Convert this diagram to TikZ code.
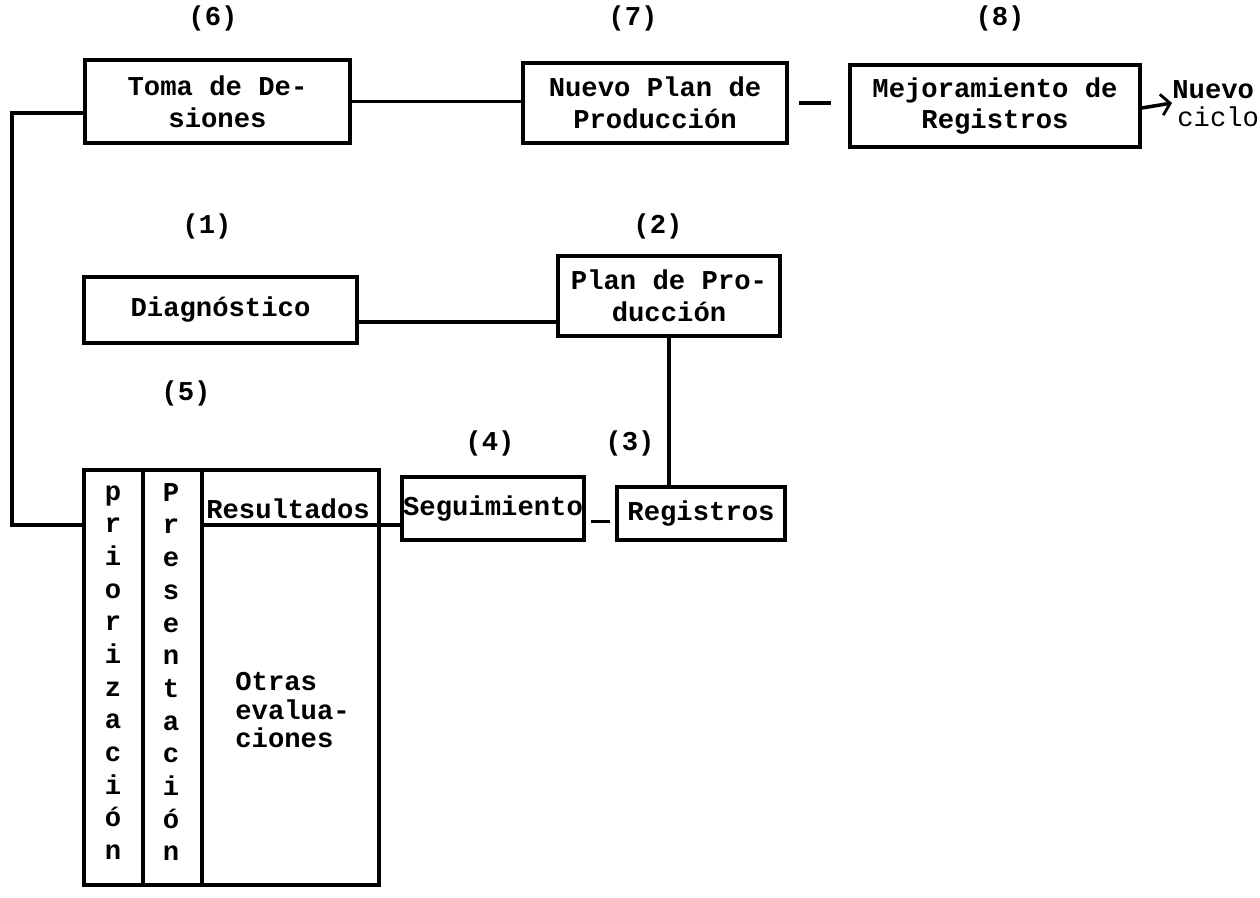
\documentclass[tikz,border=0pt]{standalone}
\usepackage{fontspec}
\setmonofont{Liberation Mono}
\usetikzlibrary{arrows.meta}
\newcommand\boxfont{\ttfamily\bfseries\fontsize{15.5}{18.2}\selectfont}
\tikzset{%
  >={Straight Barb[length=5pt,width=12pt,line width=1.6pt]}, % option for the open arrow
  box/.style={draw,line width=2pt,inner sep=0pt,align=center,font=\boxfont},%
  link/.style={line width=2pt},%
  num/.style={font=\boxfont,inner sep=0pt},%
  column/.style={font=\ttfamily\bfseries\fontsize{15.5}{18.6}\selectfont,
    align=center,inner sep=0pt,anchor=north}%
}

\begin{document}
\begin{tikzpicture}[x=0.02cm,y=-0.02cm]

%definitions
\useasboundingbox (0,0) rectangle (1260,897);
\node[box,minimum width=5.3cm,minimum height=1.66cm] (toma) at (217.5,101.5) {Toma de De-\\siones};
\node[box,minimum width=5.28cm,minimum height=1.6cm] (nuevo) at (655,103) {Nuevo Plan de\\Producción};
\node[box,minimum width=5.8cm,minimum height=1.64cm] (mejora) at (995,106) {Mejoramiento de\\Registros};
\node[box,minimum width=5.46cm,minimum height=1.32cm] (diag) at (220.5,310) {Diagnóstico};
\node[box,minimum width=4.44cm,minimum height=1.6cm] (plan) at (669,296) {Plan de Pro-\\ducción};
\node[box,minimum width=3.64cm,minimum height=1.26cm] (seg) at (493,508.5) {Seguimiento};
\node[box,minimum width=3.36cm,minimum height=1.06cm] (reg) at (701,513.5) {Registros};
\node[box,minimum width=5.9cm,minimum height=8.3cm] (eval) at (231.5,677.5) {};
\coordinate (resline) at (202,525);
\coordinate (bend) at (12,525);
\coordinate (ciclo) at (1172,103);

% inside of (5)
\draw[link] (143,0 |- eval.north) -- (143,0 |- eval.south);
\draw[link] (202,0 |- eval.north) -- (202,0 |- eval.south);
\node[column] (prio) at (113,485) {p\\r\\i\\o\\r\\i\\z\\a\\c\\i\\ó\\n};
\node[column] (pres) at (171,483) {P\\r\\e\\s\\e\\n\\t\\a\\c\\i\\ó\\n};
\node[num] (resul) at (288,509) {Resultados};
\node[num,anchor=north west,align=left,font=\ttfamily\bfseries\fontsize{15.5}{16.2}\selectfont]
  (otras) at (235,672) {Otras\\evalua-\\ciones};

% connectors
\draw[link] (toma.east) -- (toma.east -| nuevo.west);
\draw[link,shorten <=0.2cm,shorten >=0.34cm] (nuevo.east) -- (nuevo.east -| mejora.west);
\draw[link,->] ([yshift=-0.04cm]mejora.east) -- (ciclo);
\draw[link] ([yshift=-0.24cm]diag.east) -- ([yshift=-0.24cm]diag.east -| plan.west);
\draw[link] (plan.south) -- (plan.south |- reg.north);
\draw[link,shorten <=0.1cm,shorten >=0.1cm] ([yshift=-0.26cm]seg.east) -- ([yshift=-0.26cm]seg.east -| reg.west);
\draw[link] (resline) -- (resline -| seg.west);
\draw[link] ([yshift=-0.23cm]toma.west) -| (bend) -- (bend -| eval.west);

%labels
\node[num] (lab6) at (213,18) {(6)};
\node[num] (lab7) at (633,18) {(7)};
\node[num] (lab8) at (1000,18) {(8)};
\node[num] (lab1) at (207,226) {(1)};
\node[num] (lab2) at (658,226) {(2)};
\node[num] (lab5) at (186,393) {(5)};
\node[num] (lab4) at (490,443) {(4)};
\node[num] (lab3) at (630,443) {(3)};
\node[num,anchor=west] (nuevotxt) at (1172,90) {Nuevo};
\node[num,anchor=west,font=\ttfamily\fontsize{15.5}{18}\selectfont] (ciclotxt) at (1177,117) {ciclo};

\end{tikzpicture}
\end{document}
